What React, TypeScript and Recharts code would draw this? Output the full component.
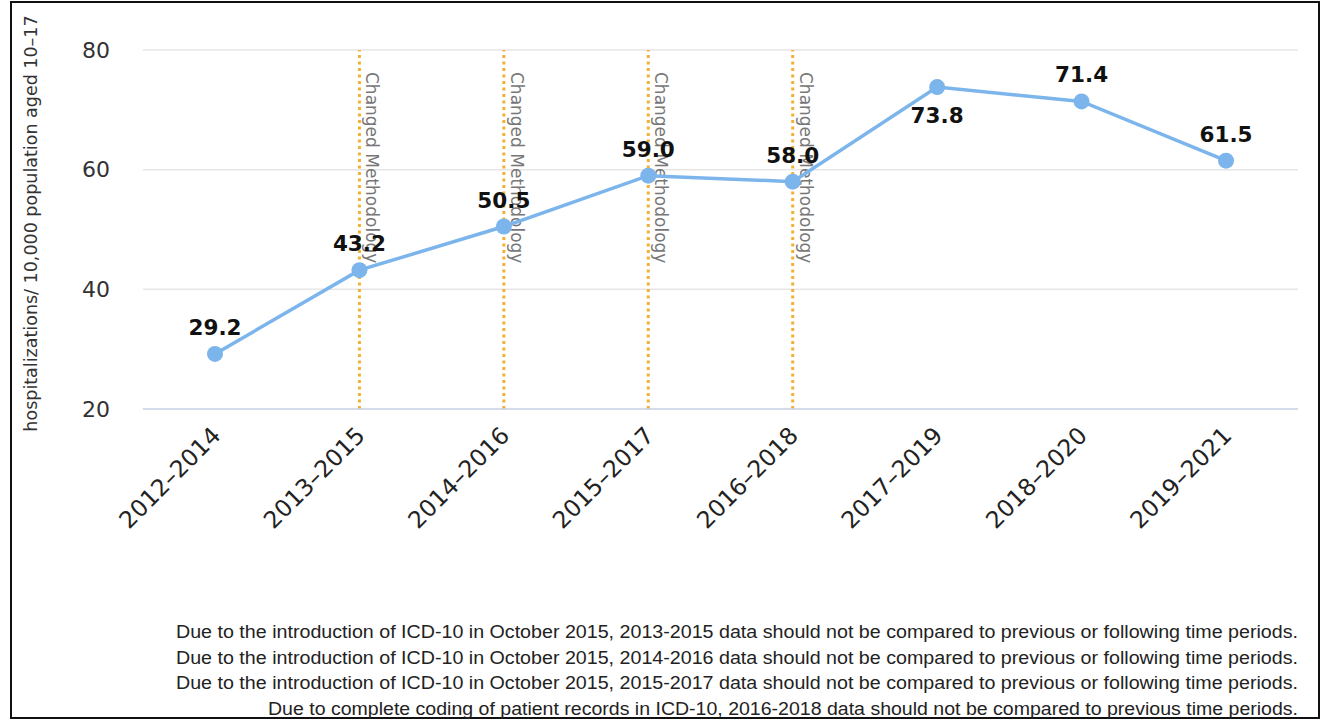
import { LineChart, Line, XAxis, YAxis, CartesianGrid, ReferenceLine, LabelList } from "recharts";

const periods = ["2012–2014", "2013–2015", "2014–2016", "2015–2017", "2016–2018", "2017–2019", "2018–2020", "2019–2021"];
const rates = [29.2, 43.2, 50.5, 59.0, 58.0, 73.8, 71.4, 61.5];
const yTicks = [20, 40, 60, 80];
const methodChanges = ["2013–2015", "2014–2016", "2015–2017", "2016–2018"];
const labelBelow = ["2017–2019"];
const footnotes = [
  "Due to the introduction of ICD-10 in October 2015, 2013-2015 data should not be compared to previous or following time periods.",
  "Due to the introduction of ICD-10 in October 2015, 2014-2016 data should not be compared to previous or following time periods.",
  "Due to the introduction of ICD-10 in October 2015, 2015-2017 data should not be compared to previous or following time periods.",
  "Due to complete coding of patient records in ICD-10, 2016-2018 data should not be compared to previous time periods.",
];

const data = periods.map((period, i) => ({ period, rate: rates[i] }));

const FONT = "'DejaVu Sans', sans-serif";

function XTick({ x, y, payload }: any) {
  const px = x + 7;
  const py = y + 28;
  return (
    <text x={px} y={py} transform={`rotate(-45, ${px}, ${py})`} textAnchor="end" fontSize={23.5} fill="#222" fontFamily={FONT}>
      {payload.value}
    </text>
  );
}

function PointLabel({ x, y, value, index }: any) {
  const below = labelBelow.includes(periods[index]);
  return (
    <text x={x} y={below ? y + 36 : y - 19} textAnchor="middle" fontSize={21.5} fontWeight="bold" fill="#111" fontFamily={FONT}>
      {Number(value).toFixed(1)}
    </text>
  );
}

function MethodLabel({ viewBox }: any) {
  const tx = viewBox.x + 7;
  const ty = viewBox.y + 22;
  return (
    <text x={tx} y={ty} transform={`rotate(90, ${tx}, ${ty})`} textAnchor="start" fontSize={17} fill="#777" fontFamily={FONT}>
      Changed Methodology
    </text>
  );
}

function YTitle({ viewBox }: any) {
  const tx = viewBox.x + 27;
  const ty = viewBox.y + viewBox.height / 2 - 6;
  return (
    <text x={tx} y={ty} transform={`rotate(-90, ${tx}, ${ty})`} textAnchor="middle" fontSize={17.5} fill="#333" fontFamily={FONT}>
      hospitalizations/ 10,000 population aged 10–17
    </text>
  );
}

export default function App() {
  return (
    <div style={{ position: "absolute", left: 0, top: 0, width: 1321, height: 720, background: "#fff" }}>
      <div
        style={{
          position: "absolute",
          left: 10,
          top: 1,
          width: 1306,
          height: 714,
          border: "2px solid #111",
        }}
      />
      <div style={{ position: "absolute", left: 0, top: 0 }}>
        <LineChart width={1321} height={720} data={data} margin={{ top: 50, right: 23, left: 10, bottom: 191 }}>
          <CartesianGrid vertical={false} stroke="#e6e6e6" strokeWidth={1.5} />
          <XAxis
            dataKey="period"
            height={120}
            padding={{ left: 72, right: 72 }}
            tick={<XTick />}
            tickLine={false}
            tickSize={0}
            tickMargin={0}
            interval={0}
            axisLine={{ stroke: "#ccd6eb", strokeWidth: 1.5 }}
          />
          <YAxis
            domain={[20, 80]}
            ticks={yTicks}
            width={133}
            tickLine={false}
            axisLine={false}
            tickSize={0}
            tickMargin={33}
            tick={{ fontSize: 22, fill: "#333", fontFamily: FONT }}
            label={<YTitle />}
          />
          {methodChanges.map((p) => (
            <ReferenceLine
              key={p}
              x={p}
              stroke="#f2b134"
              strokeWidth={3}
              strokeDasharray="3 3.5"
              label={<MethodLabel />}
            />
          ))}
          <Line
            type="linear"
            dataKey="rate"
            stroke="#7cb5ec"
            strokeWidth={3.5}
            dot={{ r: 8, fill: "#7cb5ec", stroke: "#7cb5ec", strokeWidth: 0 }}
            activeDot={false}
            isAnimationActive={false}
          >
            <LabelList dataKey="rate" content={<PointLabel />} />
          </Line>
        </LineChart>
      </div>
      <svg width={1321} height={720} style={{ position: "absolute", left: 0, top: 0, pointerEvents: "none" }}>
        {footnotes.map((t, i) => (
          <text
            key={i}
            x={1298}
            y={638 + i * 25.5}
            textAnchor="end"
            fontSize={17.5}
            fill="#222"
            fontFamily="'Liberation Sans', sans-serif"
            textLength={i === 3 ? 1030 : 1122}
            lengthAdjust="spacingAndGlyphs"
          >
            {t}
          </text>
        ))}
      </svg>
    </div>
  );
}
